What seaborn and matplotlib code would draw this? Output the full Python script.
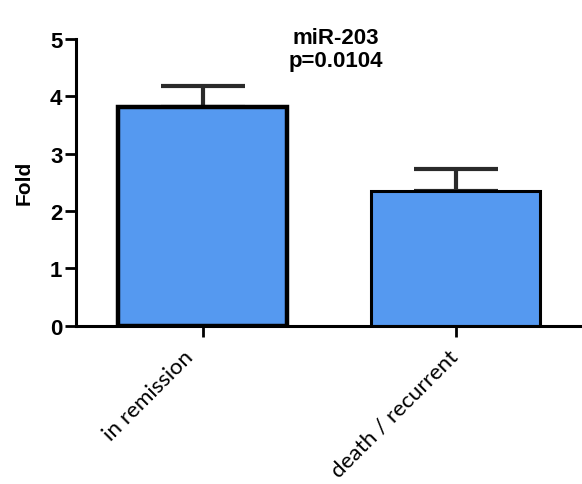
import numpy as np
import seaborn as sns
import matplotlib.pyplot as plt
import matplotlib.transforms as mtransforms

# values
groups = ["in remission", "death / recurrent"]
fold_mean = [3.82, 2.35]
fold_sem = [0.36, 0.39]
title_lines = ["miR-203", "p=0.0104"]

sns.set_style("ticks")
plt.rcParams['font.family'] = ['Liberation Sans', 'DejaVu Sans']
plt.rcParams.update({"text.color": "black", "axes.labelcolor": "black",
                     "xtick.color": "black", "ytick.color": "black"})

fig = plt.figure(figsize=(5.82, 4.85), dpi=100)
ax = fig.add_axes([0.131, 0.326, 0.869, 0.592])

sns.barplot(x=groups, y=fold_mean, color="#5599f0", saturation=1,
            width=0.67, edgecolor="black", linewidth=2.2, ax=ax)
ax.patches[0].set_linewidth(3.2)

# upper-only error bars (SEM)
ax.errorbar(np.arange(len(groups)), fold_mean,
            yerr=[np.zeros(len(groups)), fold_sem],
            fmt="none", ecolor="#2a2a2a", elinewidth=3,
            capsize=30, capthick=3, zorder=1)
for line in ax.lines:
    line.set_zorder(1)
for p in ax.patches:
    p.set_zorder(2)

ax.set_ylim(0, 5)
ax.set_xlim(-0.5, 1.5)
ax.set_yticks(range(6))
ax.set_ylabel("Fold", fontsize=15, fontweight="bold", labelpad=12)
ax.set_xlabel("")
for lbl in ax.get_yticklabels():
    lbl.set_fontweight("bold")
    lbl.set_fontsize(16)

# category labels drawn as rotated texts under the ticks
ax.set_xticks(range(len(groups)))
ax.set_xticklabels([])
base = ax.get_xaxis_transform()
for i, (name, dx) in enumerate(zip(groups, [-20, -8])):
    off = mtransforms.ScaledTranslation(dx / 100, -20 / 100, fig.dpi_scale_trans)
    ax.text(i, 0, name, transform=base + off, rotation=45,
            rotation_mode="anchor", ha="right", va="top",
            fontsize=16.2, family=["Lato", "DejaVu Sans"], clip_on=False)

ax.tick_params(axis="both", width=2, length=8, colors="black")
ax.tick_params(axis="y", pad=2)
sns.despine(ax=ax)
for side in ["left", "bottom"]:
    ax.spines[side].set_linewidth(2.2)
    ax.spines[side].set_color("black")

fig.text(0.577, 0.92, title_lines[0], ha="center", va="center",
         fontsize=16, fontweight="bold")
fig.text(0.577, 0.874, title_lines[1], ha="center", va="center",
         fontsize=16, fontweight="bold")

fig.savefig("out.png", dpi=100)
